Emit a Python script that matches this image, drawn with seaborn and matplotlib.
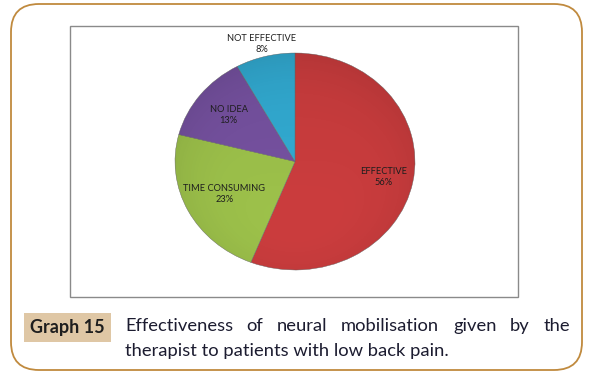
import matplotlib
matplotlib.use("Agg")
import matplotlib.pyplot as plt
import numpy as np
import seaborn as sns
from matplotlib.patches import FancyBboxPatch, Rectangle

# data
categories = ["EFFECTIVE", "TIME CONSUMING", "NO IDEA", "NOT EFFECTIVE"]
percents = [56, 23, 13, 8]
slice_colors = ["#CF3E3F", "#A0C54C", "#7853A3", "#33AED6"]
caption_tag = "Graph 15"
caption_line1 = "Effectiveness of neural mobilisation given by the"
caption_line2 = "therapist to patients with low back pain."

sns.set_theme(style="white")
plt.rcParams["font.family"] = ["Lato", "DejaVu Sans"]

W, H = 594, 375
fig = plt.figure(figsize=(W / 100, H / 100), dpi=100)

# background axes in pixel coordinates
bg = fig.add_axes([0, 0, 1, 1])
bg.set_xlim(0, W)
bg.set_ylim(H, 0)
bg.axis("off")

# outer rounded border
bg.add_patch(FancyBboxPatch((11 + 28, 4 + 28), 571 - 56, 366 - 56,
                            boxstyle="round,pad=28", fc="white",
                            ec="#C08A3E", lw=1.3))
# chart frame
bg.add_patch(Rectangle((70, 26), 448, 271, fc="white", ec="#8A8A8A", lw=1.0))

# caption tag
bg.add_patch(Rectangle((24, 313), 87, 29, fc="#DFC7A5", ec="none"))
bg.text(67.5, 328, caption_tag, ha="center", va="center", fontsize=13,
        fontweight="bold", color="#1E1E1E")

# justified first caption line
cap_size = 13.2
words = caption_line1.split()
x0, x1 = 125, 570
txts = [bg.text(0, 326, w, ha="left", va="center", fontsize=cap_size,
                color="#1C1C30") for w in words]
fig.canvas.draw()
r = fig.canvas.get_renderer()
widths = [t.get_window_extent(r).width for t in txts]
gap = (x1 - x0 - sum(widths)) / (len(words) - 1)
x = x0
for t, w in zip(txts, widths):
    t.set_x(x)
    x += w + gap
bg.text(x0, 351, caption_line2, ha="left", va="center", fontsize=cap_size,
        color="#1C1C30")

# pie, drawn as a slightly flattened ellipse
pl, pr, pt, pb = 175, 415, 53, 270
ax = fig.add_axes([pl / W, 1 - pb / H, (pr - pl) / W, (pb - pt) / H])
wedges, _ = ax.pie(percents, colors=slice_colors, startangle=90,
                   counterclock=False,
                   wedgeprops=dict(edgecolor="#6A6A6A", linewidth=0.3))
ax.set_aspect("auto")
ax.set_xlim(-1, 1)
ax.set_ylim(-1, 1)

# soft shading on top of the slices
yy, xx = np.mgrid[-1:1:300j, -1:1:300j]
rr = np.sqrt(xx ** 2 + yy ** 2)
shade = np.clip(0.06 * (rr ** 4) + 0.07 * (-yy + 1) / 2, 0, 1)
rgba = np.zeros((300, 300, 4))
rgba[..., 3] = shade
img = ax.imshow(rgba, extent=(-1, 1, -1, 1), origin="upper", aspect="auto",
                zorder=3)
clip = plt.Circle((0, 0), 1, transform=ax.transData)
img.set_clip_path(clip)

label_dist = [0.75, 0.66, 0.70, 1.12]
for wdg, name, p, d in zip(wedges, categories, percents, label_dist):
    ang = np.deg2rad((wdg.theta1 + wdg.theta2) / 2)
    ax.text(d * np.cos(ang), d * np.sin(ang), f"{name}\n{p}%", ha="center",
            va="center", fontsize=6.7, color="#1E1E1E", linespacing=1.25,
            zorder=5)

fig.savefig("out.png", dpi=100)
